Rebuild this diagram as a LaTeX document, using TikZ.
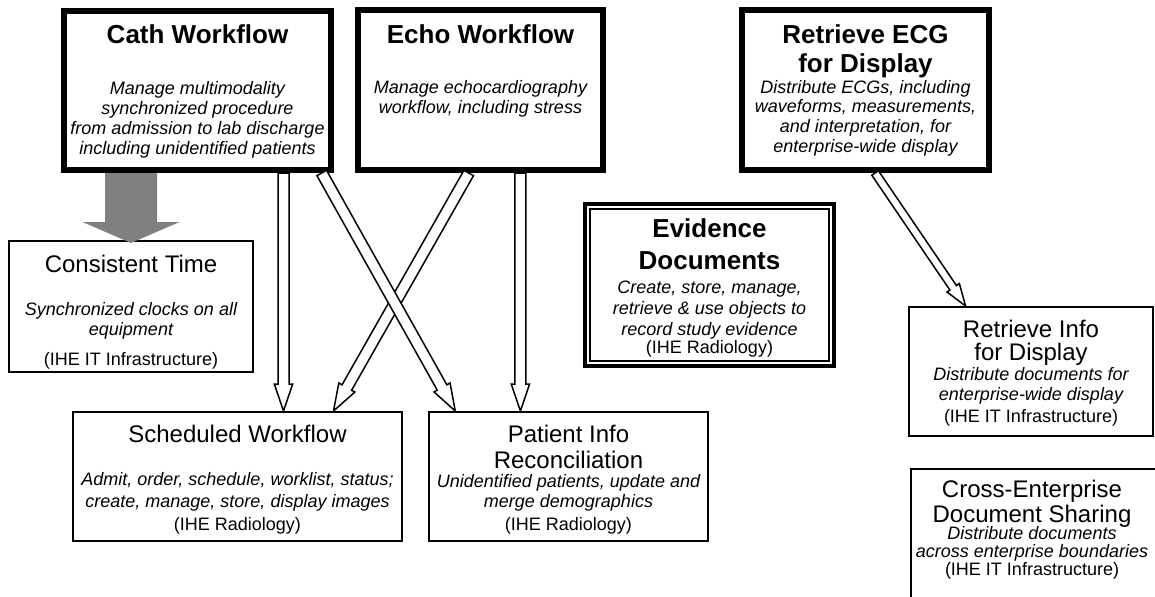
\documentclass[tikz,border=0pt]{standalone}
\usepackage{fontspec}
\setmainfont{Liberation Sans}
\usetikzlibrary{calc}

% hollow block arrow: [options]{shaft half}{head half}{head length}{tail}{tip}
\newcommand{\blockarrow}[6][]{%
    \coordinate (tail) at (#5);
    \coordinate (tip) at (#6);
    \coordinate (neck) at ($(tip)!#4!(tail)$);
    \filldraw[hollow, #1] ($(tail)!#2!90:(tip)$) -- ($(neck)!#2!90:(tip)$)
        -- ($(neck)!#3!90:(tip)$) -- (tip) -- ($(neck)!#3!-90:(tip)$)
        -- ($(neck)!#2!-90:(tip)$) -- ($(tail)!#2!-90:(tip)$) -- cycle;}

\begin{document}
\begin{tikzpicture}[x=0.5pt, y=-0.5pt,
    thickbox/.style={draw, line width=3pt, inner sep=0pt},
    thinbox/.style={draw, line width=1pt, inner sep=0pt},
    boldtitle/.style={font=\fontsize{13}{#1}\selectfont\bfseries, align=center, anchor=base, inner sep=0pt},
    boldtitle/.default=16pt,
    plaintitle/.style={font=\fontsize{12}{#1}\selectfont, align=center, anchor=base, inner sep=0pt},
    plaintitle/.default=13pt,
    desc/.style={font=\fontsize{9}{#1}\selectfont\itshape, align=center, anchor=base, inner sep=0pt},
    desc/.default=10pt,
    source/.style={font=\fontsize{9}{10}\selectfont, anchor=base, inner sep=0pt},
    hollow/.style={fill=white, draw=black, line width=0.75pt, line join=miter}]
    \clip (0,0) rectangle (1155,596);

    % profile boxes
    \node[thickbox, minimum width=133.5pt, minimum height=79.5pt] at (197.5, 90.5) (cath) {};
    \node[thickbox, minimum width=122.5pt, minimum height=80pt] at (480.5, 90) (echo) {};
    \node[thickbox, minimum width=123.5pt, minimum height=80pt] at (865.5, 90) (ecg) {};
    \node[draw, line width=2pt, inner sep=0pt, minimum width=124.5pt, minimum height=81pt] at (709.5, 285) (evid) {};
    \draw[line width=1pt] ([shift={(3.5pt,-3.5pt)}]evid.north west) rectangle ([shift={(-3.5pt,3.5pt)}]evid.south east);
    \node[thinbox, minimum width=122pt, minimum height=65.5pt] at (131, 306.5) (ctime) {};
    \node[thinbox, minimum width=164.5pt, minimum height=64.5pt] at (237.5, 476.5) (sched) {};
    \node[thinbox, minimum width=139.5pt, minimum height=64.5pt] at (568.5, 476.5) (pir) {};
    \node[thinbox, minimum width=122pt, minimum height=64.5pt] at (1031, 371.5) (rinfo) {};
    \node[thinbox, minimum width=124.5pt, minimum height=75.5pt] at (1035.5, 544.5) (xds) {};

    % texts (multi-line nodes sit on their last baseline)
    \node[boldtitle] at (197.5, 43) (cathTitle) {Cath Workflow};
    \node[desc] at (197.5, 154) (cathText) {Manage multimodality\\synchronized procedure\\from admission to lab discharge\\including unidentified patients};
    \node[boldtitle] at (480.5, 43) (echoTitle) {Echo Workflow};
    \node[desc] at (480.5, 113) (echoText) {Manage echocardiography\\workflow, including stress};
    \node[boldtitle=14.5pt] at (865.5, 72) (ecgTitle) {Retrieve ECG\\for Display};
    \node[desc=9.8pt] at (865.5, 152) (ecgText) {Distribute ECGs, including\\waveforms, measurements,\\and interpretation, for\\enterprise-wide display};
    \node[boldtitle=16pt] at (709.5, 269) (evidTitle) {Evidence\\Documents};
    \node[desc=10.5pt] at (709.5, 335) (evidText) {Create, store, manage,\\retrieve \& use objects to\\record study evidence};
    \node[source] at (709.5, 353) (evidSrc) {(IHE Radiology)};
    \node[plaintitle] at (131, 272) (ctimeTitle) {Consistent Time};
    \node[desc] at (131, 335) (ctimeText) {Synchronized clocks on all\\equipment};
    \node[source] at (131, 365) (ctimeSrc) {(IHE IT Infrastructure)};
    \node[plaintitle] at (237.5, 442) (schedTitle) {Scheduled Workflow};
    \node[desc=11pt] at (237.5, 507) (schedText) {Admit, order, schedule, worklist, status;\\create, manage, store, display images};
    \node[source] at (237.5, 530) (schedSrc) {(IHE Radiology)};
    \node[plaintitle] at (568.5, 468) (pirTitle) {Patient Info\\Reconciliation};
    \node[desc] at (568.5, 507) (pirText) {Unidentified patients, update and\\merge demographics};
    \node[source] at (568.5, 530) (pirSrc) {(IHE Radiology)};
    \node[plaintitle=11.5pt] at (1031, 360) (rinfoTitle) {Retrieve Info\\for Display};
    \node[desc] at (1031, 400) (rinfoText) {Distribute documents for\\enterprise-wide display};
    \node[source] at (1031, 422) (rinfoSrc) {(IHE IT Infrastructure)};
    \node[plaintitle=10.5pt] at (1032, 522) (xdsTitle) {Cross-Enterprise\\Document Sharing};
    \node[desc=9pt] at (1032, 557) (xdsText) {Distribute documents\\across enterprise boundaries};
    \node[source] at (1032, 575) (xdsSrc) {(IHE IT Infrastructure)};

    % arrows
    \coordinate (cathS) at ($(cath.south west)!0.815!(cath.south east)$);
    \coordinate (echoS) at ($(echo.south west)!0.659!(echo.south east)$);
    \blockarrow[fill=gray, draw=none]{13pt}{24.25pt}{10.5pt}{cath.south -| ctime.north}{[yshift=-1.5pt]ctime.north}
    \blockarrow{2.75pt}{4.6pt}{13.5pt}{cathS}{cathS |- sched.north}
    \blockarrow{2.75pt}{4.6pt}{13.5pt}{$(echo.south west)!0.453!(echo.south east)$}{$(sched.north west)!0.79!(sched.north east)$}
    \blockarrow{2.75pt}{4.6pt}{13.5pt}{$(cath.south west)!0.955!(cath.south east)$}{$(pir.north west)!0.097!(pir.north east)$}
    \blockarrow{2.75pt}{4.6pt}{13.5pt}{echoS}{echoS |- pir.north}
    \blockarrow{2pt}{3.75pt}{11pt}{$(ecg.south west)!0.538!(ecg.south east)$}{$(rinfo.north west)!0.234!(rinfo.north east)$}
\end{tikzpicture}
\end{document}
